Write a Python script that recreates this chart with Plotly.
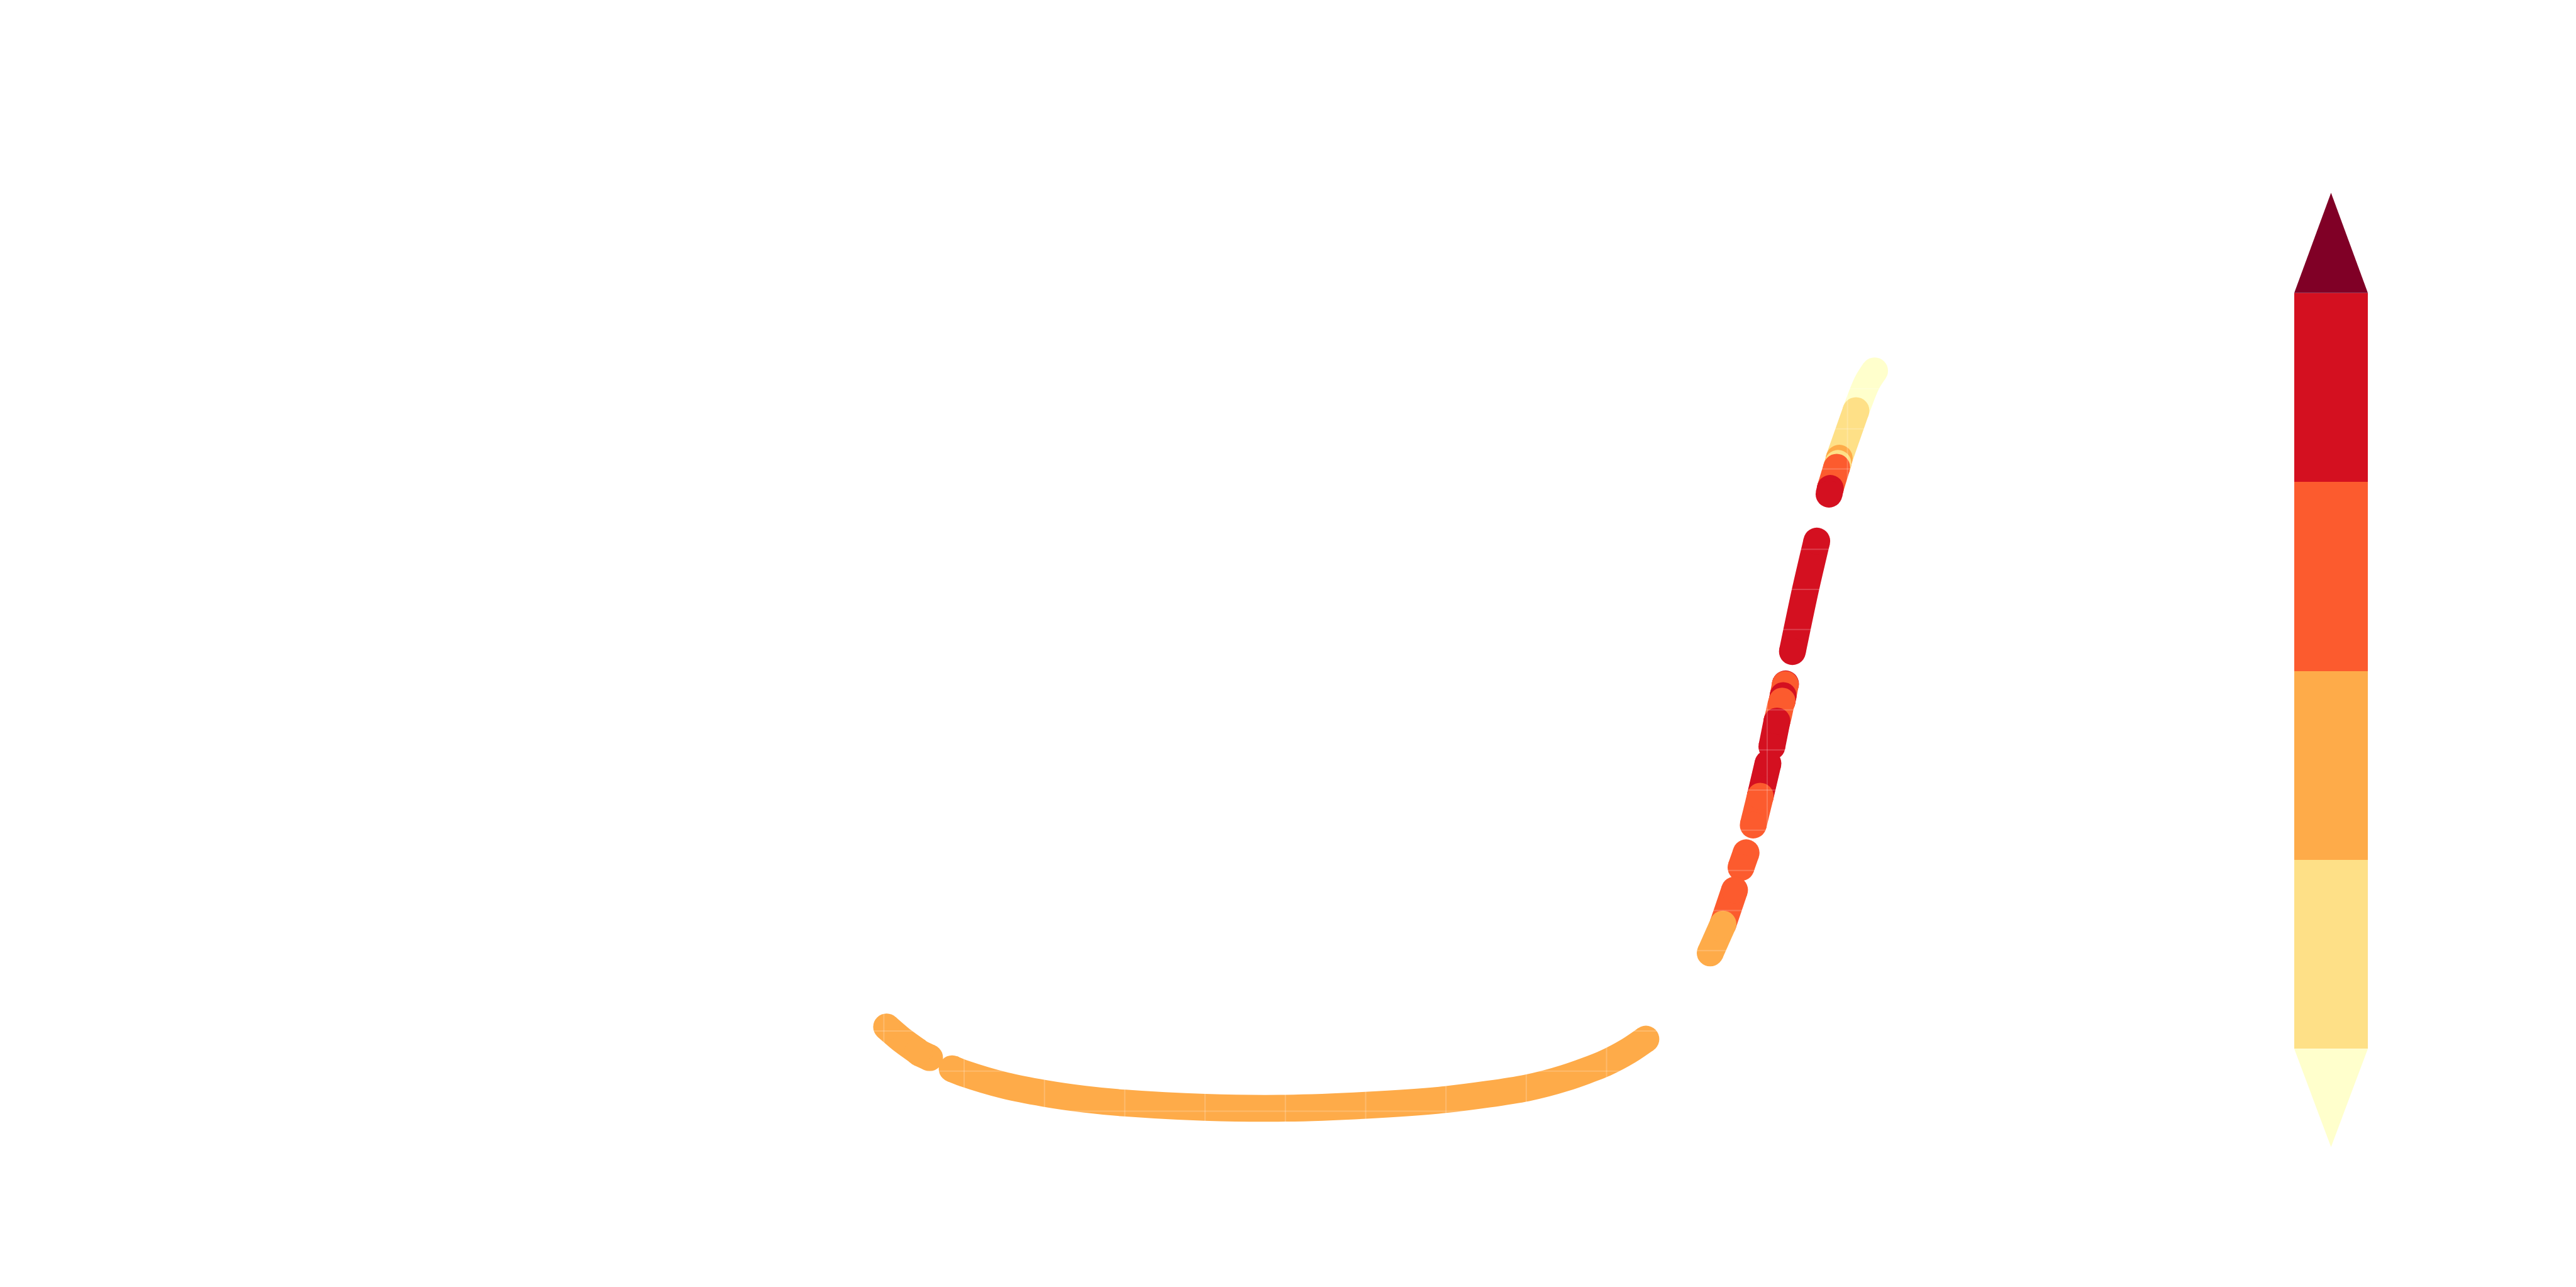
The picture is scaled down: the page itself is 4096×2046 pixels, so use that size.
import plotly.graph_objects as go

# ---------------- data (drawing order; None = gap in the track) ----------------
track_x = [12.338, 12.242, 12.106, 11.898, 11.882, 11.866, 11.786, 11.770, None,
           11.618, 11.477, 11.314, None,
           11.229, 11.226, 11.199, 11.186, 11.170, 11.138, 11.122, 11.058, None,
           11.010, 10.914, 10.826, None,
           10.738, 10.674, None,
           10.594, 10.450, 10.290, None,
           9.490, 9.274, 8.981, 8.482, 8.006, 7.003, 6.000, 4.997, 3.998, 3.001,
           2.498, 2.002, 1.506, 1.002, 0.850, None,
           0.570, 0.442, None,
           0.422, 0.235, 0.034]
track_y = [18.447, 18.143, 17.455, 16.270, 16.141, 16.045, 15.517, 15.373, None,
           14.205, 12.997, 11.451, None,
           10.647, 10.634, 10.355, 10.218, 10.122, 9.834, 9.721, 9.081, None,
           8.665, 7.848, 7.128, None,
           6.439, 6.071, None,
           5.511, 4.662, 3.941, None,
           1.796, 1.504, 1.196, 0.826, 0.579, 0.291, 0.147, 0.074, 0.096, 0.202,
           0.300, 0.444, 0.641, 0.939, 1.057, None,
           1.332, 1.451, None,
           1.489, 1.758, 2.101]
# value of the segment that starts at each point
track_v = [12, 15, 31, 47, 36, 68, 86, 88, None,
           91, 94, 90, None,
           83, 72, 81, 74, 77, 70, 85, 84, None,
           82, 66, 64, None,
           71, 69, None,
           62, 55, 52, None,
           57, 54, 52, 50, 48, 47, 45, 44, 45, 46, 47, 48, 50, 53, 55, None,
           52, 54, None,
           56, 58, 59]

levels = [20, 40, 60, 80, 100]
colors = ["#ffffcc", "#fee087", "#feab49", "#fc5b2e", "#d41020", "#800026"]

grid_x = list(range(-10, 18))
grid_y = list(range(-4, 28))

# ---------------- layout constants ----------------
W, H = 4096, 2046
S = W / 6683.0
LW = 69.5 * S
X_RANGE = [-11.0066, 21.0723]
Y_RANGE = [-4.3804, 27.6849]


def color_of(v):
    k = sum(1 for b in levels if v >= b)
    return colors[k]


fig = go.Figure()

# split into runs
runs, cur = [], []
for x, y, v in zip(track_x, track_y, track_v):
    if x is None:
        if cur:
            runs.append(cur)
        cur = []
    else:
        cur.append((x, y, v))
if cur:
    runs.append(cur)

for run in runs:
    groups = []
    for i in range(len(run) - 1):
        c = color_of(run[i][2])
        if groups and groups[-1][0] == c:
            groups[-1][1].append(run[i + 1])
        else:
            groups.append((c, [run[i], run[i + 1]]))
    for c, pts in groups:
        fig.add_trace(go.Scatter(
            x=[p[0] for p in pts], y=[p[1] for p in pts],
            mode="lines",
            line=dict(color=c, width=LW, shape="spline", smoothing=0.8, simplify=False),
            hoverinfo="skip", showlegend=False, cliponaxis=False))
        # round caps at both ends of each coloured stretch
        fig.add_trace(go.Scatter(
            x=[pts[0][0], pts[-1][0]], y=[pts[0][1], pts[-1][1]],
            mode="markers",
            marker=dict(color=c, size=LW, line=dict(width=0)),
            hoverinfo="skip", showlegend=False, cliponaxis=False))

# colorbar (discrete, no ticks)
n = len(levels) - 1
cs = []
for k in range(n):
    cs.append([k / n, colors[k + 1]])
    cs.append([(k + 1) / n, colors[k + 1]])

cb_x0, cb_x1 = 5952 / 6683, 6143 / 6683
cb_top, cb_bot = 760 / 3338, 2720 / 3338
apex_top, apex_bot = 500 / 3338, 2975 / 3338

fig.add_trace(go.Scatter(
    x=[0], y=[-100], mode="markers",
    marker=dict(color=[levels[0]], colorscale=cs, cmin=levels[0], cmax=levels[-1],
                opacity=0, size=1, showscale=True,
                colorbar=dict(thicknessmode="pixels", thickness=(cb_x1 - cb_x0) * W,
                              lenmode="pixels", len=(cb_bot - cb_top) * H,
                              x=cb_x0, xanchor="left", y=1 - (cb_top + cb_bot) / 2,
                              yanchor="middle", xpad=0, ypad=0, outlinewidth=0,
                              borderwidth=0, showticklabels=False, ticks="",
                              tickvals=[])),
    hoverinfo="skip", showlegend=False))

shapes = []
xc = (cb_x0 + cb_x1) / 2
shapes.append(dict(type="path", xref="paper", yref="paper", layer="above",
                   path=f"M {cb_x0},{1-cb_top} L {cb_x1},{1-cb_top} L {xc},{1-apex_top} Z",
                   fillcolor=colors[-1], line=dict(width=0)))
shapes.append(dict(type="path", xref="paper", yref="paper", layer="above",
                   path=f"M {cb_x0},{1-cb_bot} L {cb_x1},{1-cb_bot} L {xc},{1-apex_bot} Z",
                   fillcolor=colors[0], line=dict(width=0)))

# faint white grid drawn over the data
gcol = "rgba(255,255,255,0.2)"
for gx in grid_x:
    shapes.append(dict(type="line", xref="x", yref="y", layer="above",
                       x0=gx, x1=gx, y0=grid_y[0] - 0.4, y1=grid_y[-1] + 0.6,
                       line=dict(color=gcol, width=2)))
for gy in grid_y:
    shapes.append(dict(type="line", xref="x", yref="y", layer="above",
                       x0=X_RANGE[0], x1=grid_x[-1] + 0.3, y0=gy, y1=gy,
                       line=dict(color=gcol, width=2)))

fig.update_layout(
    width=W, height=H, margin=dict(l=0, r=0, t=0, b=0, pad=0),
    paper_bgcolor="white", plot_bgcolor="white", template="none",
    xaxis=dict(range=X_RANGE, visible=False, showgrid=False, zeroline=False, fixedrange=True),
    yaxis=dict(range=Y_RANGE, visible=False, showgrid=False, zeroline=False, fixedrange=True),
    shapes=shapes, showlegend=False)

fig.write_html("out.html")
